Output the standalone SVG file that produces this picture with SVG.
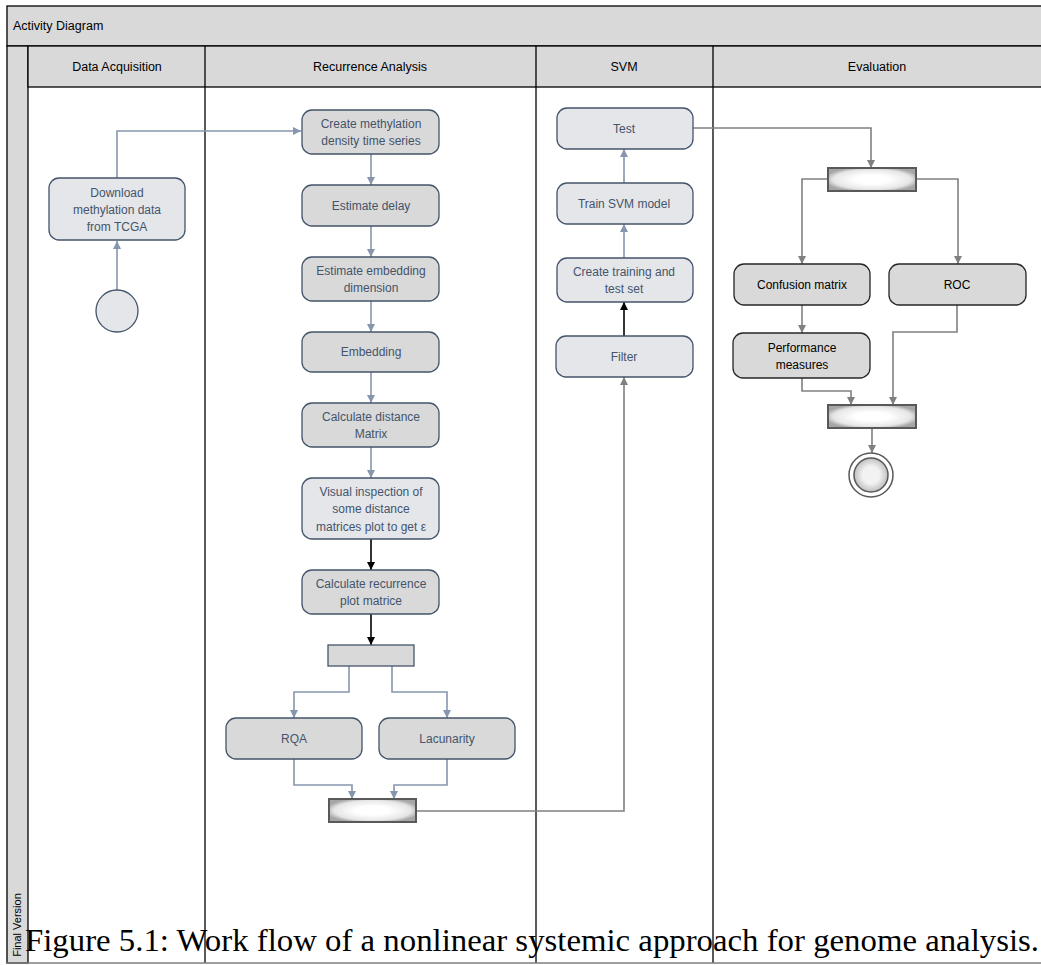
<svg xmlns="http://www.w3.org/2000/svg" width="1041" height="965" viewBox="0 0 1041 965">
<style>
.hdr{fill:#d9d9d9;stroke:#000;stroke-width:1.3}
.lane{fill:none;stroke:#000;stroke-width:1.3}
.t{font-family:"Liberation Sans",Arial,sans-serif;font-size:12px;text-anchor:middle}
.ht{font-family:"Liberation Sans",Arial,sans-serif;font-size:12.5px;text-anchor:middle;fill:#000}
.lt{fill:#e4e6ea;stroke:#44546a;stroke-width:1.3}
.gr{fill:#d9d9d9;stroke:#44546a;stroke-width:1.3}
.gk{fill:#d9d9d9;stroke:#262626;stroke-width:1.3}
.nt{fill:#44546a}
.kt{fill:#000}
.cb{fill:none;stroke:#8596ad;stroke-width:1.6}
.cg{fill:none;stroke:#808080;stroke-width:1.6}
.ck{fill:none;stroke:#000;stroke-width:1.6}
.bar{fill:url(#bg);stroke:#595959;stroke-width:2}
</style>
<defs>
<radialGradient id="bg" cx="0.5" cy="0.5" r="0.55">
<stop offset="0.35" stop-color="#ffffff"/>
<stop offset="0.8" stop-color="#e6e6e6"/>
<stop offset="1" stop-color="#a6a6a6"/>
</radialGradient>
<radialGradient id="fg" cx="0.5" cy="0.5" r="0.5">
<stop offset="0.5" stop-color="#f2f2f2"/>
<stop offset="1" stop-color="#bfbfbf"/>
</radialGradient>
<marker id="ab" markerUnits="userSpaceOnUse" markerWidth="10" markerHeight="8" refX="8" refY="4" orient="auto"><path d="M0,0 L8,4 L0,8 z" fill="#8596ad"/></marker>
<marker id="ag" markerUnits="userSpaceOnUse" markerWidth="10" markerHeight="8" refX="8" refY="4" orient="auto"><path d="M0,0 L8,4 L0,8 z" fill="#808080"/></marker>
<marker id="ak" markerUnits="userSpaceOnUse" markerWidth="10" markerHeight="8" refX="8" refY="4" orient="auto"><path d="M0,0 L8,4 L0,8 z" fill="#000"/></marker>
</defs>
<rect width="1041" height="965" fill="#fff"/>
<g id="frame">
<rect class="hdr" x="7" y="6" width="1040" height="40"/>
<text class="ht" x="13" y="30" style="text-anchor:start">Activity Diagram</text>
<rect class="hdr" x="7" y="46" width="21" height="917"/>
<rect class="hdr" x="28" y="46" width="1020" height="41"/>
<line class="lane" x1="205" y1="46" x2="205" y2="963"/>
<line class="lane" x1="536" y1="46" x2="536" y2="963"/>
<line class="lane" x1="713" y1="46" x2="713" y2="963"/>
<line x1="7" y1="963" x2="1041" y2="963" stroke="#7f7f7f" stroke-width="1.3"/>
<text class="ht" x="117" y="71">Data Acquisition</text>
<text class="ht" x="370" y="71">Recurrence Analysis</text>
<text class="ht" x="624" y="71">SVM</text>
<text class="ht" x="877" y="71">Evaluation</text>
<text class="ht" transform="translate(21,925) rotate(-90)" style="font-size:11px">Final Version</text>
</g>
<g id="connectors">
<path class="cb" d="M117,290 V241" marker-end="url(#ab)"/>
<path class="cb" d="M117,178 V131 H301" marker-end="url(#ab)"/>
<path class="cb" d="M371,154 V185" marker-end="url(#ab)"/>
<path class="cb" d="M371,226 V257" marker-end="url(#ab)"/>
<path class="cb" d="M371,301 V332" marker-end="url(#ab)"/>
<path class="cb" d="M371,372 V403" marker-end="url(#ab)"/>
<path class="cb" d="M371,447 V478" marker-end="url(#ab)"/>
<path class="ck" d="M371,539 V570" marker-end="url(#ak)"/>
<path class="ck" d="M371,614 V645" marker-end="url(#ak)"/>
<path class="cb" d="M349,666 V692 H294 V718" marker-end="url(#ab)"/>
<path class="cb" d="M392,666 V692 H447 V718" marker-end="url(#ab)"/>
<path class="cb" d="M294,759 V785 H352 V799" marker-end="url(#ab)"/>
<path class="cb" d="M447,759 V785 H394 V799" marker-end="url(#ab)"/>
<path class="cg" d="M416,811 H624 V377" marker-end="url(#ag)"/>
<path class="ck" d="M624,336 V302" marker-end="url(#ak)"/>
<path class="cb" d="M624,258 V224" marker-end="url(#ab)"/>
<path class="cb" d="M624,183 V149" marker-end="url(#ab)"/>
<path class="cg" d="M693,128 H871 V168" marker-end="url(#ag)"/>
<path class="cg" d="M828,179 H802 V264" marker-end="url(#ag)"/>
<path class="cg" d="M916,179 H958 V264" marker-end="url(#ag)"/>
<path class="cg" d="M802,305 V333" marker-end="url(#ag)"/>
<path class="cg" d="M802,378 V391 H851 V405" marker-end="url(#ag)"/>
<path class="cg" d="M957,305 V332 H893 V405" marker-end="url(#ag)"/>
<path class="cg" d="M872,428 V453" marker-end="url(#ag)"/>
</g>
<g id="n-start"><circle cx="117" cy="311" r="21" class="lt"/></g>
<g id="n-download"><rect class="lt" x="49" y="178" width="136" height="62" rx="10"/><text class="t nt" x="117" y="197">Download</text><text class="t nt" x="117" y="214">methylation data</text><text class="t nt" x="117" y="231">from TCGA</text></g>
<g id="n-create"><rect class="gr" x="302" y="110" width="137" height="44" rx="10"/><text class="t nt" x="371" y="128">Create methylation</text><text class="t nt" x="371" y="145">density time series</text></g>
<g id="n-delay"><rect class="gr" x="302" y="185" width="137" height="41" rx="10"/><text class="t nt" x="371" y="210">Estimate delay</text></g>
<g id="n-embdim"><rect class="gr" x="302" y="257" width="137" height="44" rx="10"/><text class="t nt" x="371" y="275">Estimate embedding</text><text class="t nt" x="371" y="292">dimension</text></g>
<g id="n-embedding"><rect class="gr" x="302" y="332" width="137" height="40" rx="10"/><text class="t nt" x="371" y="356">Embedding</text></g>
<g id="n-distance"><rect class="gr" x="302" y="403" width="137" height="44" rx="10"/><text class="t nt" x="371" y="421">Calculate distance</text><text class="t nt" x="371" y="438">Matrix</text></g>
<g id="n-visual"><rect class="lt" x="302" y="478" width="137" height="61" rx="10"/><text class="t nt" x="371" y="496">Visual inspection of</text><text class="t nt" x="371" y="513">some distance</text><text class="t nt" x="371" y="531">matrices plot to get ε</text></g>
<g id="n-recplot"><rect class="gr" x="302" y="570" width="137" height="44" rx="10"/><text class="t nt" x="371" y="588">Calculate recurrence</text><text class="t nt" x="371" y="605">plot matrice</text></g>
<g id="n-fork1"><rect x="328" y="645" width="86" height="21" fill="#d9d9d9" stroke="#44546a" stroke-width="1.3"/></g>
<g id="n-rqa"><rect class="gr" x="226" y="718" width="136" height="41" rx="10"/><text class="t nt" x="294" y="743">RQA</text></g>
<g id="n-lac"><rect class="gr" x="379" y="718" width="136" height="41" rx="10"/><text class="t nt" x="447" y="743">Lacunarity</text></g>
<g id="n-join1"><rect class="bar" x="329" y="799" width="87" height="23"/></g>
<g id="n-filter"><rect class="lt" x="556" y="336" width="137" height="41" rx="10"/><text class="t nt" x="624" y="361">Filter</text></g>
<g id="n-trainset"><rect class="lt" x="557" y="258" width="136" height="44" rx="10"/><text class="t nt" x="624" y="276">Create training and</text><text class="t nt" x="624" y="293">test set</text></g>
<g id="n-train"><rect class="lt" x="557" y="183" width="136" height="41" rx="10"/><text class="t nt" x="624" y="208">Train SVM model</text></g>
<g id="n-test"><rect class="lt" x="557" y="108" width="136" height="41" rx="10"/><text class="t nt" x="624" y="133">Test</text></g>
<g id="n-fork2"><rect class="bar" x="828" y="168" width="88" height="23"/></g>
<g id="n-confusion"><rect class="gk" x="734" y="264" width="136" height="41" rx="10"/><text class="t kt" x="802" y="289">Confusion matrix</text></g>
<g id="n-roc"><rect class="gk" x="889" y="264" width="137" height="41" rx="10"/><text class="t kt" x="957" y="289">ROC</text></g>
<g id="n-perf"><rect class="gk" x="733" y="333" width="137" height="45" rx="10"/><text class="t kt" x="802" y="352">Performance</text><text class="t kt" x="802" y="369">measures</text></g>
<g id="n-join2"><rect class="bar" x="828" y="405" width="88" height="23"/></g>
<g id="n-final"><circle cx="871" cy="475" r="22" fill="#fff" stroke="#595959" stroke-width="1.5"/><circle cx="871" cy="475" r="17" fill="url(#fg)" stroke="#595959" stroke-width="1.5"/></g>
<text x="25" y="951" font-family="'Liberation Serif','Times New Roman',serif" font-size="31" textLength="1014" lengthAdjust="spacingAndGlyphs" fill="#000">Figure 5.1: Work flow of a nonlinear systemic approach for genome analysis.</text>
</svg>
